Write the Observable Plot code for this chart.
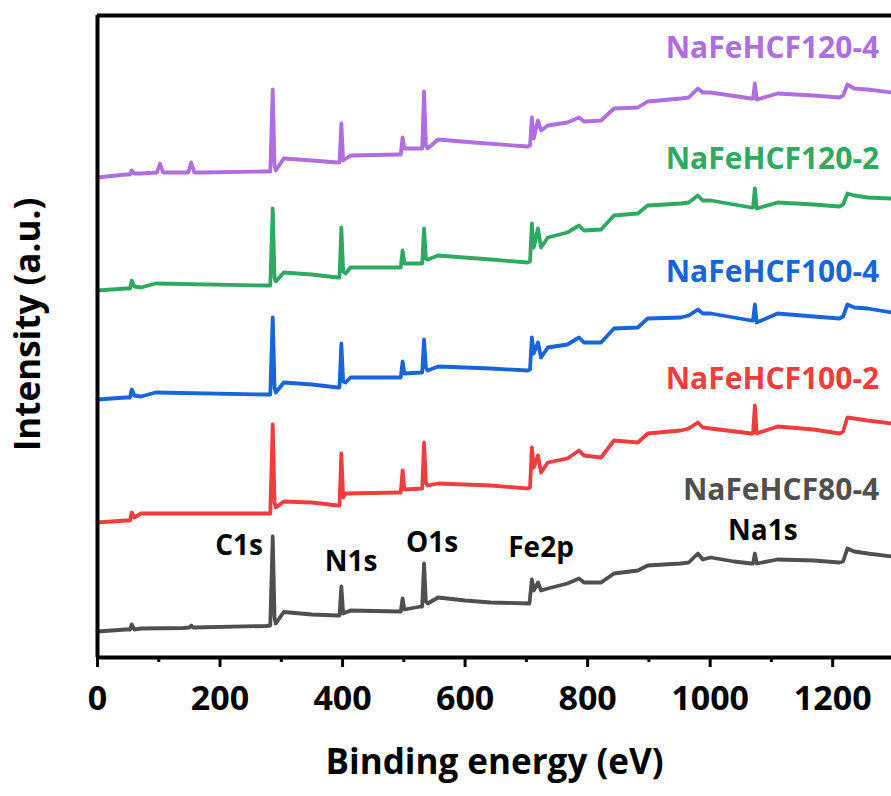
<!DOCTYPE html>
<html>
<head>
<meta charset="utf-8">
<script src="https://cdn.jsdelivr.net/npm/d3@7"></script>
<script src="https://cdn.jsdelivr.net/npm/@observablehq/plot@0.6"></script>
<style>
  html, body { margin: 0; padding: 0; background: #fff; overflow: hidden; }
  #chart svg { display: block; }
</style>
</head>
<body>
<div id="chart"></div>
<script>
// XPS survey spectra, stacked with vertical offsets: [binding energy (eV), intensity (a.u.)]
const nafehcf80_4 = [
  [0,26],[46,28],[53,28],[56,33],[60,28],[71,29],[140,29.5],[150,30],[153,32],[156,30],
  [275,31.5],[282,32],[286,121],[289,40],[291,34],[304,45.5],[350,43],[392,42],[395,42],
  [398,71],[401,44],[413,47],[492,46],[495,46],[498,59],[501,48],[528,51],[530,51],
  [533,94],[536,56],[539,54],[556,60],[600,57],[642,55],[705,54],[709,78],[712,67],
  [719,75],[724,67],[735,69],[767,74],[786,79],[794,75],[822,75],[843,84],[882,87],
  [898,92],[952,94],[965,95],[980,104],[988,98],[1001,100],[1039,96],[1067,94],[1070,94],
  [1073,104],[1076,94],[1110,98],[1169,97],[1211,95],[1217,96],[1224,109],[1235,106],
  [1257,104],[1296,101]
];
const nafehcf100_2 = [
  [0,135],[46,137],[53,137],[56,145],[60,140],[71,144],[275,144],[282,144],[286,233],
  [289,155],[291,150],[304,156],[350,155],[392,152],[395,152],[398,204],[401,160],
  [405,164],[492,165],[495,165],[498,187],[501,168],[528,169],[530,169],[533,215],
  [536,175],[539,172],[556,174],[642,172],[702,169],[706,170],[709,210],[712,190],
  [719,202],[724,185],[735,195],[767,199],[786,207],[794,202],[822,200],[843,217],
  [882,215],[898,224],[952,227],[965,229],[980,235],[988,230],[1001,229],[1067,224],
  [1070,224],[1073,252],[1076,224],[1110,231],[1169,228],[1211,224],[1217,226],
  [1224,240],[1235,239],[1257,237],[1296,234]
];
const nafehcf100_4 = [
  [0,258],[46,260],[53,260],[56,268],[60,262],[71,261],[95,265],[275,263],[282,263],
  [286,340],[289,270],[291,265],[304,275],[350,273],[392,270],[395,270],[398,314],
  [401,276],[405,275],[413,280],[492,280],[495,280],[498,296],[501,284],[528,285],
  [530,285],[533,318],[536,290],[539,287],[556,291],[642,289],[702,287],[706,288],
  [709,320],[712,304],[719,315],[724,300],[735,310],[767,313],[786,320],[794,315],
  [822,315],[843,329],[882,330],[898,339],[952,340],[965,342],[980,348],[988,344],
  [1001,344],[1067,337],[1070,337],[1073,353],[1076,335],[1110,344],[1169,341],
  [1211,339],[1217,341],[1224,353],[1235,350],[1257,349],[1296,345]
];
const nafehcf120_2 = [
  [0,367],[46,369],[53,369],[56,377],[60,371],[71,370],[95,374],[275,372],[282,372],
  [286,449],[289,380],[291,376],[304,385],[350,383],[392,380],[395,380],[398,430],
  [401,386],[405,384],[413,390],[492,390],[495,390],[498,407],[501,394],[528,394],
  [530,394],[533,429],[536,399],[539,398],[556,402],[642,398],[702,395],[706,396],
  [709,434],[712,410],[719,429],[724,410],[735,420],[767,425],[786,432],[794,427],
  [822,428],[843,442],[882,444],[898,452],[952,454],[965,455],[980,462],[988,457],
  [1001,457],[1067,450],[1070,450],[1073,469],[1076,449],[1110,455],[1169,453],
  [1211,451],[1217,453],[1224,464],[1235,462],[1257,460],[1296,459]
];
const nafehcf120_4 = [
  [0,480],[46,483],[53,483],[56,487],[60,484],[71,484],[97,485],[102,494],[107,485],
  [148,485],[153,495],[158,485],[169,485],[275,486],[282,486],[286,568],[289,492],
  [291,487],[304,499],[350,497],[392,495],[395,495],[398,534],[401,497],[413,502],
  [492,503],[495,503],[498,520],[501,509],[528,509],[530,509],[533,566],[536,512],
  [539,509],[556,518],[614,515],[702,511],[706,512],[709,540],[712,519],[719,537],
  [724,527],[735,532],[767,535],[786,540],[794,536],[822,537],[843,549],[882,550],
  [898,556],[952,559],[965,560],[980,569],[988,565],[1001,565],[1067,559],[1070,559],
  [1073,574],[1076,558],[1110,564],[1169,562],[1211,560],[1217,562],[1224,573],
  [1235,569],[1257,568],[1296,565]
];

const sampleNames = ["NaFeHCF120-4", "NaFeHCF120-2", "NaFeHCF100-4", "NaFeHCF100-2", "NaFeHCF80-4"];
const sampleSpectra = [nafehcf120_4, nafehcf120_2, nafehcf100_4, nafehcf100_2, nafehcf80_4];
const sampleColors = ["#b06ddf", "#2fa862", "#1865da", "#ef3d3d", "#4f4f4f"];

// Core-level assignments
const peakNames = ["C1s", "N1s", "O1s", "Fe2p", "Na1s"];

// Tick values on the energy axis
const majorTicks = [0, 200, 400, 600, 800, 1000, 1200];
const minorTicks = [100, 300, 500, 700, 900, 1100];

// Annotation anchors (energy, intensity) for the sample names and peak names
const sampleLabelAt = [[1276, 609], [1276, 498], [1276, 385], [1276, 278], [1276, 167]];
const peakLabelAt = [[231, 111], [414, 95], [546, 114], [724, 109], [1086, 126]];

const rows = sampleNames.flatMap((name, i) =>
  sampleSpectra[i].map(([energy, intensity]) => ({sample: name, energy, intensity}))
);
const sampleLabels = sampleNames.map((name, i) => ({name, x: sampleLabelAt[i][0], y: sampleLabelAt[i][1]}));
const peakLabels = peakNames.map((name, i) => ({name, x: peakLabelAt[i][0], y: peakLabelAt[i][1]}));

const font = "'Open Sans', 'DejaVu Sans', sans-serif";

const chart = Plot.plot({
  width: 891,
  height: 796,
  marginLeft: 97,
  marginRight: 0,
  marginTop: 15,
  marginBottom: 139,
  style: {fontFamily: font, background: "#fff", color: "#000"},
  x: {domain: [0, 1296], axis: null},
  y: {domain: [0, 642], axis: null},
  color: {domain: sampleNames, range: sampleColors},
  marks: [
    Plot.line(rows, {x: "energy", y: "intensity", z: "sample", stroke: "sample",
      strokeWidth: 3.8, strokeLinejoin: "round", strokeLinecap: "round"}),
    Plot.ruleY([0], {stroke: "#000", strokeWidth: 4}),
    Plot.ruleY([642], {stroke: "#000", strokeWidth: 4}),
    Plot.ruleX([0], {stroke: "#000", strokeWidth: 4}),
    Plot.axisX(majorTicks, {anchor: "bottom", tickSize: 10, tickPadding: 18, strokeWidth: 3,
      fontSize: 34, fontWeight: "bold", fill: "#000", label: null, tickFormat: d => String(d)}),
    Plot.axisX(minorTicks, {anchor: "bottom", tickSize: 5, strokeWidth: 3,
      label: null, tickFormat: () => ""}),
    Plot.text(sampleLabels, {x: "x", y: "y", text: "name", fill: "name", textAnchor: "end",
      fontSize: 30, fontWeight: "bold"}),
    Plot.text(peakLabels, {x: "x", y: "y", text: "name", fill: "#000",
      fontSize: 28, fontWeight: "bold"}),
    Plot.text(["Binding energy (eV)"], {text: d => d, frameAnchor: "bottom", dy: 116,
      fontSize: 35, fontWeight: "bold", fill: "#000"}),
    Plot.text(["Intensity (a.u.)"], {text: d => d, frameAnchor: "left", textAnchor: "middle",
      rotate: -90, dx: -69, dy: -12, fontSize: 35, fontWeight: "bold", fill: "#000"})
  ]
});

document.getElementById("chart").appendChild(chart);
</script>
</body>
</html>
